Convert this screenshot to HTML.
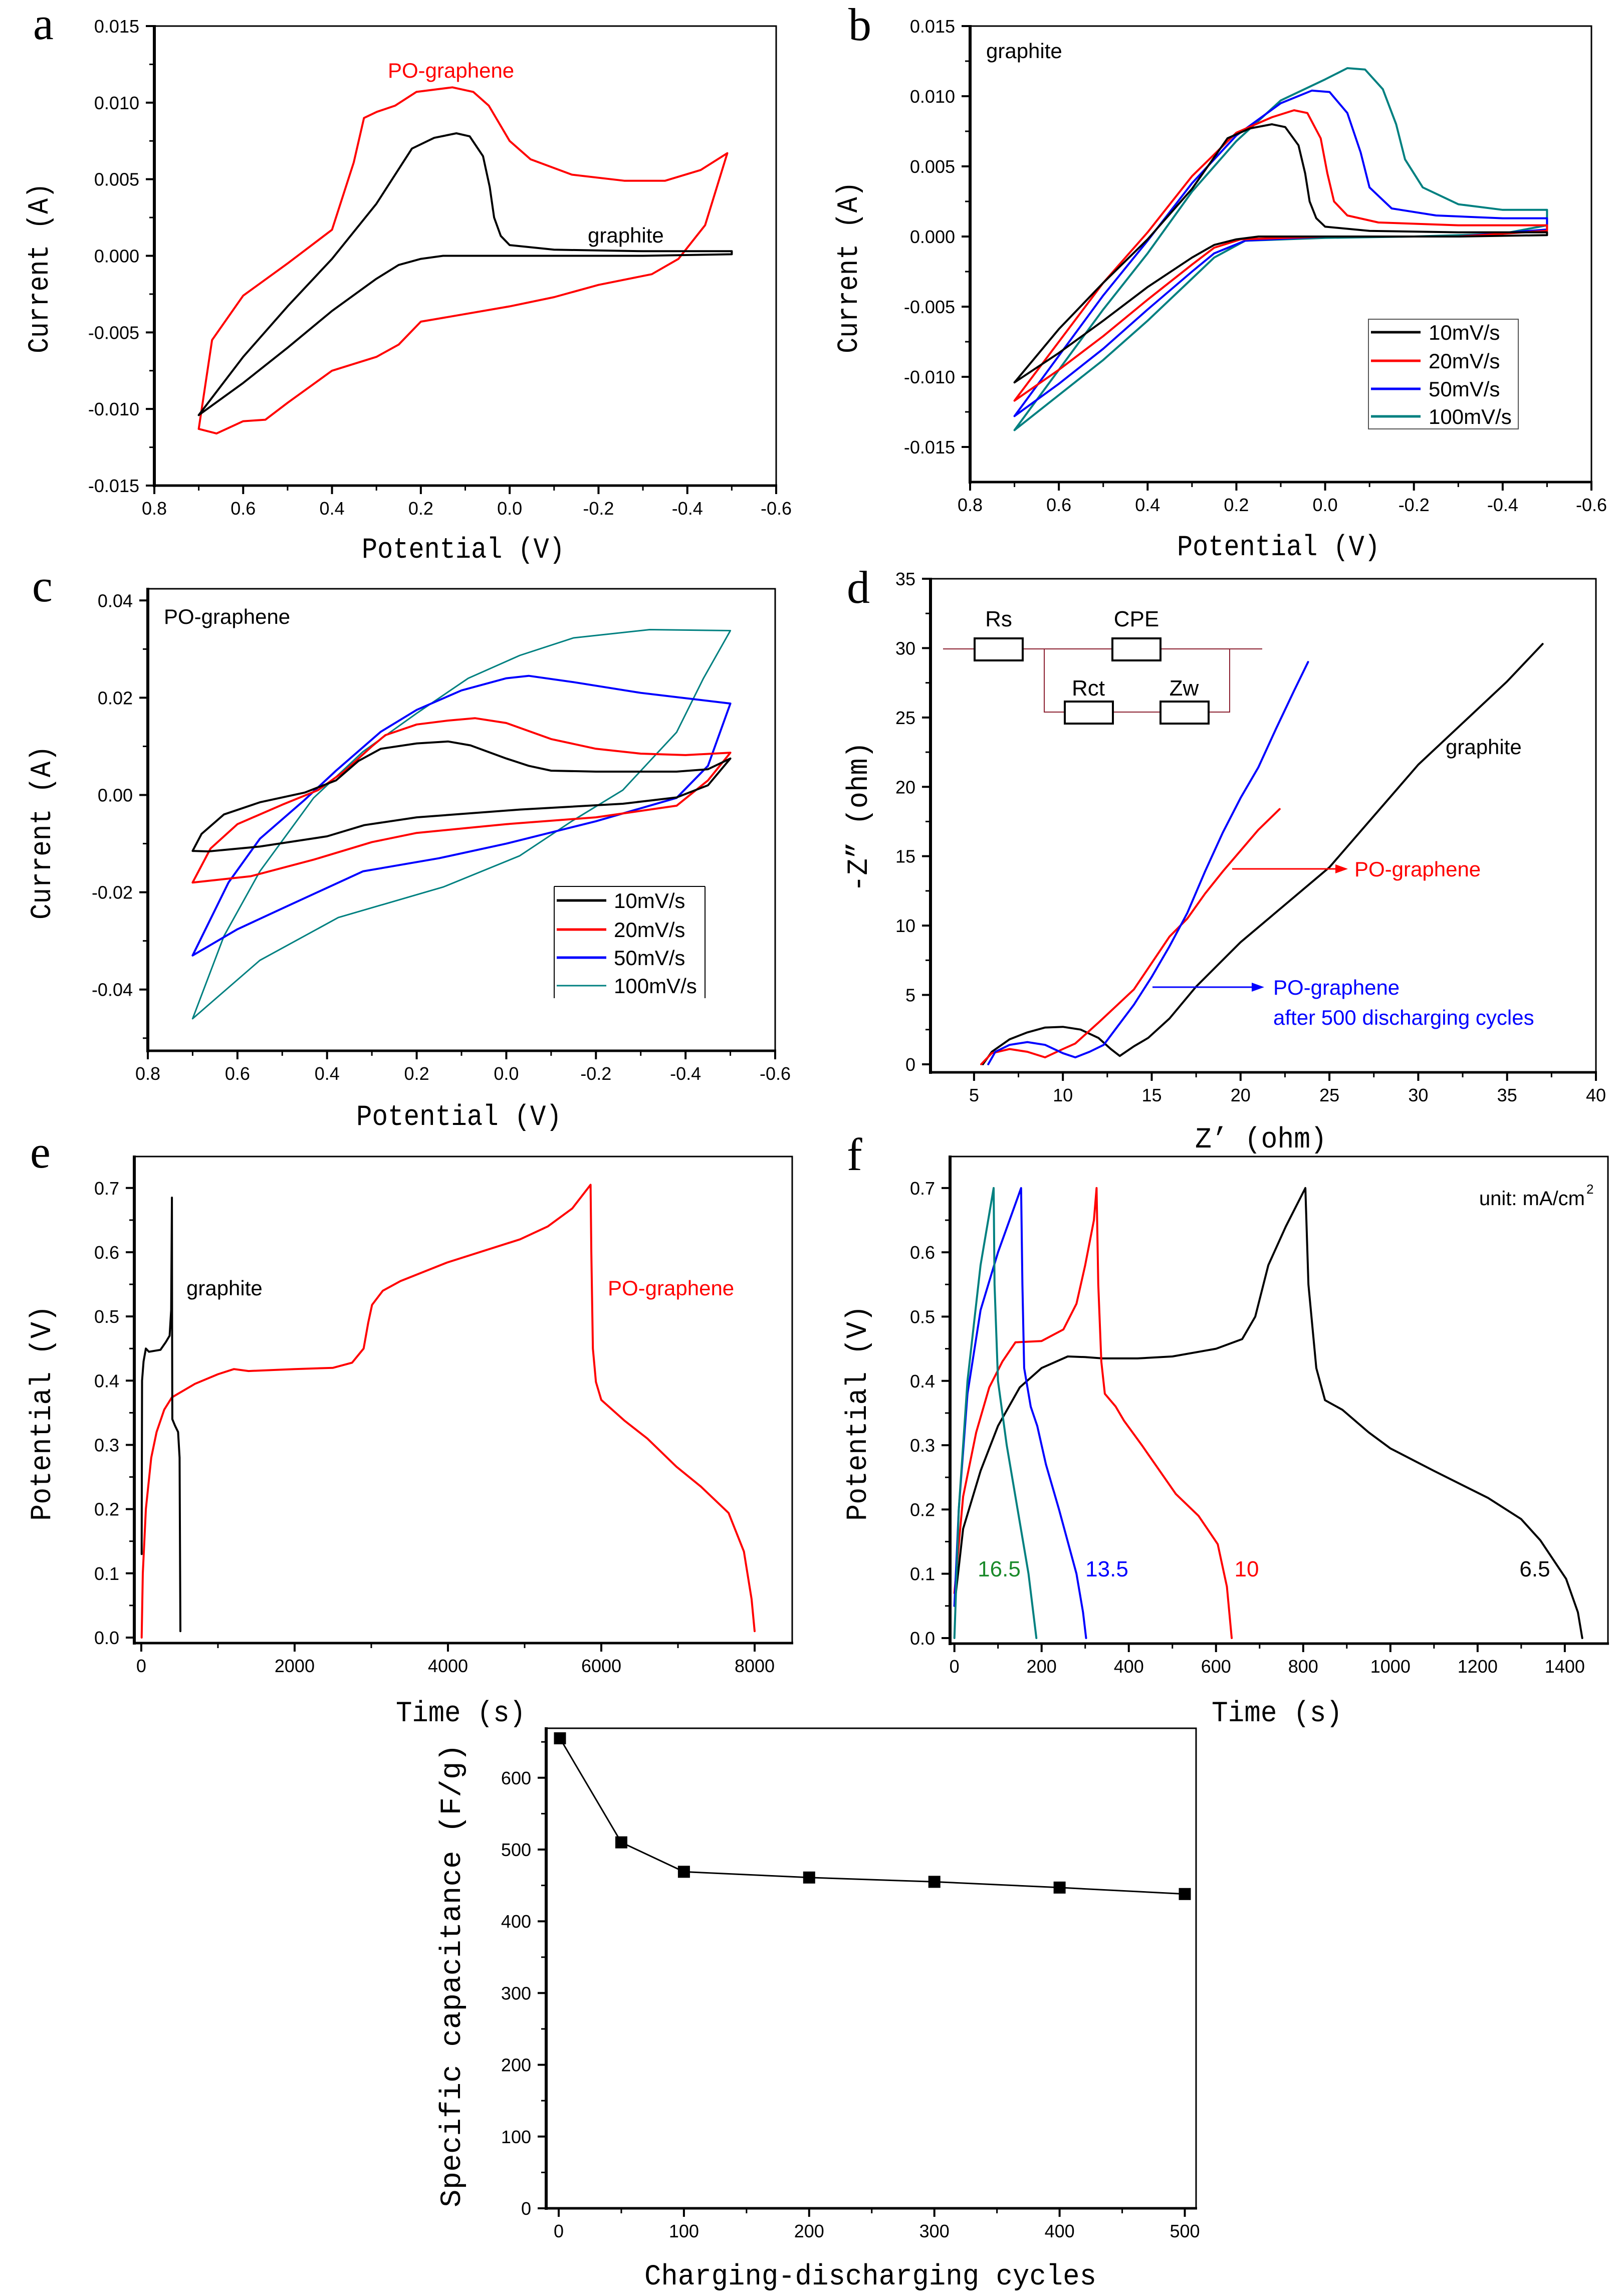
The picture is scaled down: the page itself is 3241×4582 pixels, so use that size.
<!DOCTYPE html>
<html><head><meta charset="utf-8"><style>
html,body{margin:0;padding:0;background:#fff;}
svg{display:block;}
</style></head><body>
<svg id="fig" xmlns="http://www.w3.org/2000/svg" width="3241" height="4582" viewBox="0 0 3241 4582"></svg>
<script>
// ---------- DATA ----------
// panel a
const aGraphite = [[0.7,-0.0104],[0.6,-0.0066],[0.5,-0.0033],[0.4,-0.0002],[0.3,0.0034],[0.22,0.0070],[0.17,0.0077],[0.12,0.0080],[0.09,0.0078],[0.06,0.0065],[0.045,0.0045],[0.035,0.0025],[0.02,0.0013],[0.0,0.0007],[-0.1,0.0004],[-0.3,0.0003],[-0.5,0.0003],[-0.5,0.0001],[-0.3,0.0],[0.0,0.0],[0.15,0.0],[0.2,-0.0002],[0.25,-0.0006],[0.3,-0.0015],[0.4,-0.0036],[0.5,-0.006],[0.6,-0.0083],[0.7,-0.0104]];
const aPO = [[0.7,-0.0113],[0.67,-0.0055],[0.6,-0.0026],[0.5,-0.0005],[0.4,0.0017],[0.351,0.0061],[0.328,0.009],[0.299,0.0094],[0.258,0.0098],[0.21,0.0107],[0.129,0.011],[0.082,0.0107],[0.047,0.0098],[0.0,0.0075],[-0.047,0.0063],[-0.14,0.0053],[-0.258,0.0049],[-0.35,0.0049],[-0.43,0.0056],[-0.49,0.0067],[-0.44,0.002],[-0.38,-0.0002],[-0.32,-0.0012],[-0.2,-0.0019],[-0.1,-0.0027],[0.0,-0.0033],[0.1,-0.0038],[0.2,-0.0043],[0.25,-0.0058],[0.3,-0.0066],[0.4,-0.0075],[0.5,-0.0096],[0.55,-0.0107],[0.6,-0.0108],[0.66,-0.0116],[0.7,-0.0113]];
// panel b
const b10 = [[0.7,-0.0104],[0.6,-0.0066],[0.5,-0.0033],[0.4,-0.0002],[0.3,0.0034],[0.22,0.0070],[0.17,0.0077],[0.12,0.0080],[0.09,0.0078],[0.06,0.0065],[0.045,0.0045],[0.035,0.0025],[0.02,0.0013],[0.0,0.0007],[-0.1,0.0004],[-0.3,0.0003],[-0.5,0.0003],[-0.5,0.0001],[-0.3,0.0],[0.0,0.0],[0.15,0.0],[0.2,-0.0002],[0.25,-0.0006],[0.3,-0.0015],[0.4,-0.0036],[0.5,-0.006],[0.6,-0.0083],[0.7,-0.0104]];
const b20 = [[0.7,-0.0117],[0.5,-0.0033],[0.4,0.0003],[0.3,0.0043],[0.2,0.0074],[0.12,0.0085],[0.07,0.009],[0.04,0.0088],[0.01,0.0070],[-0.005,0.0045],[-0.02,0.0025],[-0.05,0.0015],[-0.12,0.001],[-0.3,0.0008],[-0.5,0.0008],[-0.5,0.0004],[-0.3,0.0],[0,0],[0.19,-0.0002],[0.25,-0.0008],[0.3,-0.002],[0.4,-0.0045],[0.5,-0.0071],[0.6,-0.0095],[0.7,-0.0117]];
const b50 = [[0.7,-0.0128],[0.5,-0.0042],[0.4,-0.0003],[0.3,0.0038],[0.2,0.0072],[0.1,0.0095],[0.03,0.0104],[-0.01,0.0103],[-0.05,0.0088],[-0.08,0.006],[-0.1,0.0035],[-0.15,0.002],[-0.25,0.0015],[-0.4,0.0013],[-0.5,0.0013],[-0.5,0.0005],[-0.3,0.0],[0,0],[0.18,-0.0003],[0.25,-0.0012],[0.3,-0.0025],[0.4,-0.0052],[0.5,-0.008],[0.6,-0.0105],[0.7,-0.0128]];
const b100 = [[0.7,-0.0138],[0.5,-0.0052],[0.4,-0.0012],[0.3,0.0032],[0.2,0.0068],[0.1,0.0097],[0.0,0.0112],[-0.05,0.012],[-0.09,0.0119],[-0.13,0.0105],[-0.16,0.008],[-0.18,0.0055],[-0.22,0.0035],[-0.3,0.0023],[-0.4,0.0019],[-0.5,0.0019],[-0.5,0.0008],[-0.4,0.0002],[-0.2,0.0],[0,-0.0001],[0.18,-0.0003],[0.25,-0.0015],[0.3,-0.003],[0.4,-0.006],[0.5,-0.0088],[0.6,-0.0113],[0.7,-0.0138]];
// panel c
const c10 = [[0.7,-0.0115],[0.68,-0.008],[0.63,-0.004],[0.55,-0.0015],[0.45,0.0005],[0.38,0.003],[0.33,0.007],[0.28,0.0095],[0.2,0.0106],[0.13,0.011],[0.08,0.0102],[0.0,0.0075],[-0.05,0.006],[-0.1,0.005],[-0.2,0.0048],[-0.38,0.0048],[-0.45,0.0053],[-0.5,0.0075],[-0.45,0.002],[-0.38,-0.0005],[-0.26,-0.0018],[-0.03,-0.003],[0.2,-0.0046],[0.317,-0.0062],[0.4,-0.0085],[0.55,-0.0106],[0.665,-0.0116],[0.7,-0.0115]];
const c20 = [[0.7,-0.018],[0.66,-0.011],[0.6,-0.006],[0.5,-0.002],[0.42,0.001],[0.36,0.005],[0.3,0.01],[0.27,0.0123],[0.2,0.0145],[0.13,0.0153],[0.07,0.0158],[0.0,0.0148],[-0.1,0.0115],[-0.2,0.0095],[-0.3,0.0085],[-0.4,0.0082],[-0.5,0.0087],[-0.45,0.003],[-0.38,-0.0022],[-0.2,-0.0046],[0,-0.006],[0.2,-0.0078],[0.3,-0.0097],[0.43,-0.0133],[0.57,-0.0167],[0.7,-0.018]];
const c50 = [[0.7,-0.033],[0.62,-0.018],[0.55,-0.009],[0.45,-0.001],[0.38,0.005],[0.28,0.013],[0.2,0.0175],[0.1,0.0215],[0.0,0.024],[-0.05,0.0245],[-0.15,0.0232],[-0.3,0.021],[-0.5,0.0188],[-0.45,0.006],[-0.38,-0.0006],[-0.2,-0.0054],[0,-0.010],[0.15,-0.013],[0.32,-0.0157],[0.49,-0.0229],[0.6,-0.0276],[0.7,-0.033]];
const c100 = [[0.7,-0.046],[0.63,-0.029],[0.55,-0.0157],[0.43,-0.0006],[0.32,0.0089],[0.2,0.0168],[0.085,0.024],[-0.03,0.0287],[-0.15,0.0323],[-0.32,0.034],[-0.5,0.0338],[-0.44,0.024],[-0.38,0.0129],[-0.26,0.001],[-0.146,-0.0054],[-0.03,-0.0125],[0.14,-0.0189],[0.375,-0.0252],[0.55,-0.034],[0.7,-0.046]];
// panel d
const dGraphite = [[5.5,0],[6,0.9],[7,1.8],[8,2.3],[9,2.65],[10,2.7],[11,2.5],[12,1.9],[12.7,1.1],[13.2,0.6],[14,1.3],[14.8,1.9],[16,3.3],[17.5,5.6],[20,8.8],[22.5,11.5],[25,14.2],[30,21.6],[35,27.6],[37,30.3]];
const dPO = [[5.4,0],[6,0.8],[7,1.1],[8,0.9],[9,0.5],[10,1.1],[10.7,1.5],[12,3],[13,4.2],[14,5.4],[15,7.3],[16,9.2],[17,10.5],[18,12.3],[19,13.9],[20,15.4],[21,16.9],[22.2,18.4]];
const dPO500 = [[5.8,0],[6.2,0.9],[7,1.4],[8,1.6],[9,1.4],[10,0.8],[10.7,0.5],[11.5,0.9],[12.3,1.4],[13,2.6],[14,4.3],[15,6.3],[16,8.5],[17,10.9],[18,13.9],[19,16.7],[20,19.2],[21,21.4],[22,24.2],[23,26.9],[23.8,29]];
// panel e
const eGraphite = [[5,0.13],[10,0.40],[30,0.43],[60,0.45],[100,0.445],[250,0.448],[320,0.46],[370,0.47],[390,0.51],[400,0.685],[402,0.5],[405,0.34],[440,0.33],[480,0.32],[500,0.28],[510,0.01]];
const ePO = [[5,0],[20,0.1],[60,0.2],[130,0.28],[200,0.32],[300,0.355],[400,0.374],[700,0.395],[1000,0.41],[1209,0.418],[1400,0.415],[2000,0.418],[2500,0.42],[2750,0.428],[2900,0.45],[2960,0.49],[3010,0.518],[3150,0.54],[3380,0.555],[3990,0.584],[4940,0.62],[5300,0.64],[5620,0.668],[5860,0.705],[5870,0.6],[5890,0.45],[5930,0.398],[6000,0.37],[6300,0.338],[6600,0.31],[6980,0.266],[7300,0.235],[7660,0.194],[7860,0.134],[7960,0.06],[8000,0.01]];
// panel f
const f65 = [[0,0.05],[20,0.17],[60,0.26],[100,0.33],[150,0.39],[200,0.42],[260,0.438],[300,0.437],[340,0.435],[420,0.435],[500,0.438],[600,0.45],[660,0.465],[690,0.5],[720,0.58],[760,0.64],[805,0.7],[812,0.55],[830,0.42],[850,0.37],[890,0.355],[950,0.32],[1000,0.295],[1100,0.26],[1224,0.218],[1300,0.185],[1344,0.152],[1403,0.092],[1430,0.04],[1440,0.0]];
const f10 = [[0,0.07],[20,0.22],[50,0.32],[80,0.39],[110,0.43],[140,0.46],[200,0.462],[250,0.48],[280,0.52],[300,0.58],[320,0.65],[326,0.7],[330,0.55],[337,0.43],[345,0.38],[370,0.36],[389,0.338],[430,0.3],[508,0.224],[560,0.19],[604,0.146],[625,0.08],[636,0.0]];
const f135 = [[0,0.05],[10,0.2],[30,0.38],[60,0.51],[100,0.6],[153,0.7],[156,0.55],[160,0.42],[175,0.36],[190,0.33],[210,0.27],[240,0.2],[260,0.15],[280,0.1],[295,0.04],[302,0.0]];
const f165 = [[0,0.0],[10,0.2],[30,0.4],[60,0.58],[90,0.7],[92,0.55],[100,0.4],[120,0.3],[150,0.18],[170,0.1],[188,0.0]];
// panel g
const gCycles = [1,50,100,200,300,400,500];
const gCap = [655,510,469,461,455,447,438];
// tick values / labels
const cvXTicks = [0.8,0.6,0.4,0.2,0.0,-0.2,-0.4,-0.6];
const cvXLabels = ["0.8","0.6","0.4","0.2","0.0","-0.2","-0.4","-0.6"];
const abYTicks = [0.015,0.010,0.005,0.0,-0.005,-0.010,-0.015];
const abYLabels = ["0.015","0.010","0.005","0.000","-0.005","-0.010","-0.015"];
const cYTicks = [0.04,0.02,0.0,-0.02,-0.04];
const cYLabels = ["0.04","0.02","0.00","-0.02","-0.04"];
const dXTicks = [5,10,15,20,25,30,35,40];
const dXLabels = ["5","10","15","20","25","30","35","40"];
const dYTicks = [0,5,10,15,20,25,30,35];
const dYLabels = ["0","5","10","15","20","25","30","35"];
const eXTicks = [0,2000,4000,6000,8000];
const eXLabels = ["0","2000","4000","6000","8000"];
const efYTicks = [0,0.1,0.2,0.3,0.4,0.5,0.6,0.7];
const efYLabels = ["0.0","0.1","0.2","0.3","0.4","0.5","0.6","0.7"];
const fXTicks = [0,200,400,600,800,1000,1200,1400];
const fXLabels = ["0","200","400","600","800","1000","1200","1400"];
const gXTicks = [0,100,200,300,400,500];
const gXLabels = ["0","100","200","300","400","500"];
const gYTicks = [0,100,200,300,400,500,600];
const gYLabels = ["0","100","200","300","400","500","600"];

// ---------- DRAWING ----------
const NS = "http://www.w3.org/2000/svg";
const svg = document.getElementById('fig');
function mk(tag, attrs, parent) {
  const el = document.createElementNS(NS, tag);
  for (const k in attrs) el.setAttribute(k, attrs[k]);
  (parent || svg).appendChild(el);
  return el;
}
function txt(x, y, s, size, fam, anchor, fill, name, rot, tl) {
  const el = mk('text', {x: x, y: y, 'font-size': size, 'font-family': fam, 'text-anchor': anchor, fill: fill});
  if (rot) el.setAttribute('transform', 'rotate(-90 ' + x + ' ' + y + ')');
  if (tl) { el.setAttribute('textLength', tl); el.setAttribute('lengthAdjust', 'spacingAndGlyphs'); }
  el.textContent = s;
  
  
  return el;
}
const SANS = '"Liberation Sans", sans-serif';
const MONO = '"Liberation Mono", monospace';
const SERIF = '"Liberation Serif", serif';

function makeScale(p) {
  p.sx = v => p.x0 + (v - p.xl) / (p.xr - p.xl) * (p.x1 - p.x0);
  p.sy = v => p.y1 - (v - p.yb) / (p.yt - p.yb) * (p.y1 - p.y0);
  return p;
}
function axes(p, id, xt, xlab, xminor, yt, ylab, yminor) {
  const g = mk('g', {});
  
  
  mk('rect', {x: p.x0, y: p.y0, width: p.x1 - p.x0, height: p.y1 - p.y0, fill: 'none', stroke: '#000', 'stroke-width': 3}, g);
  mk('line', {x1: p.x0, y1: p.y0 - 2, x2: p.x0, y2: p.y1 + 3, stroke: '#000', 'stroke-width': 6}, g);
  mk('line', {x1: p.x0 - 3, y1: p.y1, x2: p.x1 + 2, y2: p.y1, stroke: '#000', 'stroke-width': 5}, g);
  xt.forEach((v, i) => {
    const x = p.sx(v);
    mk('line', {x1: x, y1: p.y1, x2: x, y2: p.y1 + 17, stroke: '#000', 'stroke-width': 4}, g);
    txt(x, p.y1 + 58, xlab[i], 36, SANS, 'middle', '#000', 'panel-' + id + '-x-tick-label');
  });
  xminor.forEach(v => {
    const x = p.sx(v);
    if (x > p.x0 + 2 && x < p.x1 - 2) mk('line', {x1: x, y1: p.y1, x2: x, y2: p.y1 + 10, stroke: '#000', 'stroke-width': 3}, g);
  });
  yt.forEach((v, i) => {
    const y = p.sy(v);
    mk('line', {x1: p.x0, y1: y, x2: p.x0 - 17, y2: y, stroke: '#000', 'stroke-width': 4}, g);
    txt(p.x0 - 30, y + 13, ylab[i], 36, SANS, 'end', '#000', 'panel-' + id + '-y-tick-label');
  });
  yminor.forEach(v => {
    const y = p.sy(v);
    if (y > p.y0 + 2 && y < p.y1 - 2) mk('line', {x1: p.x0, y1: y, x2: p.x0 - 10, y2: y, stroke: '#000', 'stroke-width': 3}, g);
  });
}
function series(p, data, color, name, w) {
  const pts = data.map(d => p.sx(d[0]).toFixed(1) + ',' + p.sy(d[1]).toFixed(1)).join(' ');
  const el = mk('polyline', {points: pts, fill: 'none', stroke: color, 'stroke-width': w || 4, 'stroke-linejoin': 'round', 'stroke-linecap': 'round'});
  
  
  return el;
}
function range(a, b, s) { const r = []; for (let v = a; v <= b + 1e-9; v += s) r.push(+v.toFixed(6)); return r; }

const BLACK = '#000', RED = '#ff0000', BLUE = '#0000ff', TEAL = '#008080';

// panel letters
txt(66, 78, 'a', 92, SERIF, 'start', '#000', 'panel-label-a');
txt(1693, 80, 'b', 92, SERIF, 'start', '#000', 'panel-label-b');
txt(64, 1200, 'c', 92, SERIF, 'start', '#000', 'panel-label-c');
txt(1690, 1203, 'd', 92, SERIF, 'start', '#000', 'panel-label-d');
txt(60, 2330, 'e', 92, SERIF, 'start', '#000', 'panel-label-e');
txt(1690, 2335, 'f', 92, SERIF, 'start', '#000', 'panel-label-f');

// ---- panel a ----
const pa = makeScale({x0: 308, x1: 1549, y0: 52, y1: 969, xl: 0.8, xr: -0.6, yb: -0.015, yt: 0.015});
axes(pa, 'a', cvXTicks, cvXLabels, range(-0.6, 0.8, 0.1), abYTicks, abYLabels, range(-0.015, 0.015, 0.0025));
series(pa, aPO, RED, 'series-a-po-graphene');
series(pa, aGraphite, BLACK, 'series-a-graphite');
txt(774, 155, 'PO-graphene', 42, SANS, 'start', RED, 'label-a-po-graphene');
txt(1173, 484, 'graphite', 42, SANS, 'start', BLACK, 'label-a-graphite');
txt(722, 1113, 'Potential (V)', 58, MONO, 'start', '#000', 'x-axis-title-a', false, 405);
txt(95, 705, 'Current (A)', 58, MONO, 'start', '#000', 'y-axis-title-a', true, 340);

// ---- panel b ----
const pb = makeScale({x0: 1936, x1: 3176, y0: 52, y1: 962, xl: 0.8, xr: -0.6, yb: -0.0175, yt: 0.015});
axes(pb, 'b', cvXTicks, cvXLabels, range(-0.6, 0.8, 0.1), abYTicks, abYLabels, range(-0.0175, 0.015, 0.0025));
series(pb, b100, TEAL, 'series-b-100mVs');
series(pb, b50, BLUE, 'series-b-50mVs');
series(pb, b20, RED, 'series-b-20mVs');
series(pb, b10, BLACK, 'series-b-10mVs');
txt(1968, 116, 'graphite', 42, SANS, 'start', BLACK, 'label-b-graphite');
txt(2349, 1108, 'Potential (V)', 58, MONO, 'start', '#000', 'x-axis-title-b', false, 405);
txt(1710, 705, 'Current (A)', 58, MONO, 'start', '#000', 'y-axis-title-b', true, 343);
(function () {
  const g = mk('g', {});
  
  
  mk('rect', {x: 2731, y: 637, width: 299, height: 219, fill: '#fff', stroke: '#555', 'stroke-width': 2}, g);
  const names = ['10mV/s', '20mV/s', '50mV/s', '100mV/s'];
  const cols = [BLACK, RED, BLUE, TEAL];
  const ys = [663, 720, 776, 831];
  names.forEach((n, i) => {
    mk('line', {x1: 2736, y1: ys[i], x2: 2835, y2: ys[i], stroke: cols[i], 'stroke-width': 5}, g);
    txt(2851, ys[i] + 15, n, 42, SANS, 'start', '#000', 'legend-b-entry');
  });
})();

// ---- panel c ----
const pc = makeScale({x0: 295, x1: 1547, y0: 1175, y1: 2097, xl: 0.8, xr: -0.6, yb: -0.0526, yt: 0.0424});
axes(pc, 'c', cvXTicks, cvXLabels, range(-0.6, 0.8, 0.1), cYTicks, cYLabels, range(-0.05, 0.04, 0.01));
series(pc, c100, TEAL, 'series-c-100mVs', 3);
series(pc, c50, BLUE, 'series-c-50mVs');
series(pc, c20, RED, 'series-c-20mVs');
series(pc, c10, BLACK, 'series-c-10mVs');
txt(327, 1245, 'PO-graphene', 42, SANS, 'start', BLACK, 'label-c-po-graphene');
txt(711, 2245, 'Potential (V)', 58, MONO, 'start', '#000', 'x-axis-title-c', false, 410);
txt(100, 1835, 'Current (A)', 58, MONO, 'start', '#000', 'y-axis-title-c', true, 347);
(function () {
  const g = mk('g', {});
  
  
  mk('line', {x1: 1106, y1: 1769, x2: 1407, y2: 1769, stroke: '#000', 'stroke-width': 2}, g);
  mk('line', {x1: 1106, y1: 1769, x2: 1106, y2: 1992, stroke: '#000', 'stroke-width': 2}, g);
  mk('line', {x1: 1407, y1: 1769, x2: 1407, y2: 1992, stroke: '#000', 'stroke-width': 2}, g);
  const names = ['10mV/s', '20mV/s', '50mV/s', '100mV/s'];
  const cols = [BLACK, RED, BLUE, TEAL];
  const ys = [1797, 1855, 1911, 1967];
  names.forEach((n, i) => {
    mk('line', {x1: 1111, y1: ys[i], x2: 1210, y2: ys[i], stroke: cols[i], 'stroke-width': i === 3 ? 3 : 5}, g);
    txt(1225, ys[i] + 15, n, 42, SANS, 'start', '#000', 'legend-c-entry');
  });
})();

// ---- panel d ----
const pd = makeScale({x0: 1857, x1: 3185, y0: 1155, y1: 2140, xl: 2.55, xr: 40, yb: -0.58, yt: 35});
axes(pd, 'd', dXTicks, dXLabels, range(2.5, 40, 2.5), dYTicks, dYLabels, range(0, 35, 2.5));
series(pd, dGraphite, BLACK, 'series-d-graphite');
series(pd, dPO, RED, 'series-d-po-graphene');
series(pd, dPO500, BLUE, 'series-d-po-graphene-500-cycles');
(function () {
  const g = mk('g', {});
  
  
  const c = '#8b2030';
  mk('line', {x1: 1882, y1: 1295, x2: 2519, y2: 1295, stroke: c, 'stroke-width': 2}, g);
  mk('polyline', {points: '2084,1295 2084,1421 2454,1421 2454,1295', fill: 'none', stroke: c, 'stroke-width': 2}, g);
  [[1945, 1274], [2220, 1274], [2125, 1400], [2316, 1400]].forEach(b => {
    mk('rect', {x: b[0], y: b[1], width: 96, height: 44, fill: '#fff', stroke: '#000', 'stroke-width': 4}, g);
  });
  txt(1993, 1250, 'Rs', 44, SANS, 'middle', '#000', 'circuit-label-rs');
  txt(2268, 1250, 'CPE', 44, SANS, 'middle', '#000', 'circuit-label-cpe');
  txt(2172, 1388, 'Rct', 44, SANS, 'middle', '#000', 'circuit-label-rct');
  txt(2363, 1388, 'Zw', 44, SANS, 'middle', '#000', 'circuit-label-zw');
})();
txt(2885, 1505, 'graphite', 42, SANS, 'start', BLACK, 'label-d-graphite');
mk('line', {x1: 2459, y1: 1734, x2: 2670, y2: 1734, stroke: RED, 'stroke-width': 3});
mk('polygon', {points: '2690,1734 2665,1725 2665,1743', fill: RED});
txt(2703, 1749, 'PO-graphene', 42, SANS, 'start', RED, 'label-d-po-graphene');
mk('line', {x1: 2300, y1: 1970, x2: 2505, y2: 1970, stroke: BLUE, 'stroke-width': 3});
mk('polygon', {points: '2523,1970 2498,1961 2498,1979', fill: BLUE});
txt(2541, 1985, 'PO-graphene', 42, SANS, 'start', BLUE, 'label-d-po-graphene-500');
txt(2541, 2045, 'after 500 discharging cycles', 42, SANS, 'start', BLUE, 'label-d-after-500-cycles');
txt(2385, 2290, 'Z’ (ohm)', 58, MONO, 'start', '#000', 'x-axis-title-d', false, 263);
txt(1730, 1780, '-Z” (ohm)', 58, MONO, 'start', '#000', 'y-axis-title-d', true, 300);

// ---- panel e ----
const pe = makeScale({x0: 268, x1: 1581, y0: 2308, y1: 3279, xl: -91, xr: 8490, yb: -0.0086, yt: 0.749});
axes(pe, 'e', eXTicks, eXLabels, range(0, 8000, 1000), efYTicks, efYLabels, range(0, 0.7, 0.05));
series(pe, ePO, RED, 'series-e-po-graphene');
series(pe, eGraphite, BLACK, 'series-e-graphite');
txt(372, 2585, 'graphite', 42, SANS, 'start', BLACK, 'label-e-graphite');
txt(1213, 2585, 'PO-graphene', 42, SANS, 'start', RED, 'label-e-po-graphene');
txt(790, 3435, 'Time (s)', 58, MONO, 'start', '#000', 'x-axis-title-e', false, 259);
txt(100, 3035, 'Potential (V)', 58, MONO, 'start', '#000', 'y-axis-title-e', true, 430);

// ---- panel f ----
const pf = makeScale({x0: 1896, x1: 3209, y0: 2308, y1: 3280, xl: -10, xr: 1499, yb: -0.0086, yt: 0.749});
axes(pf, 'f', fXTicks, fXLabels, range(0, 1400, 100), efYTicks, efYLabels, range(0, 0.7, 0.05));
series(pf, f65, BLACK, 'series-f-6.5');
series(pf, f10, RED, 'series-f-10');
series(pf, f135, BLUE, 'series-f-13.5');
series(pf, f165, TEAL, 'series-f-16.5');
txt(1994, 3146, '16.5', 44, SANS, 'middle', '#1a8a2a', 'label-f-16.5');
txt(2209, 3146, '13.5', 44, SANS, 'middle', BLUE, 'label-f-13.5');
txt(2488, 3146, '10', 44, SANS, 'middle', RED, 'label-f-10');
txt(3063, 3146, '6.5', 44, SANS, 'middle', BLACK, 'label-f-6.5');
txt(3163, 2405, 'unit: mA/cm', 40, SANS, 'end', BLACK, 'label-f-unit');
txt(3166, 2382, '2', 26, SANS, 'start', BLACK, 'label-f-unit-superscript');
txt(2418, 3435, 'Time (s)', 58, MONO, 'start', '#000', 'x-axis-title-f', false, 261);
txt(1728, 3035, 'Potential (V)', 58, MONO, 'start', '#000', 'y-axis-title-f', true, 430);

// ---- panel g ----
const pg = makeScale({x0: 1090, x1: 2387, y0: 3449, y1: 4407, xl: -10, xr: 509, yb: 0, yt: 669});
axes(pg, 'g', gXTicks, gXLabels, range(0, 500, 50), gYTicks, gYLabels, range(0, 650, 50));
series(pg, gCycles.map((c, i) => [c, gCap[i]]), BLACK, 'series-g-capacitance-line', 3);
gCycles.forEach((c, i) => {
  const r = mk('rect', {x: pg.sx(c) - 12, y: pg.sy(gCap[i]) - 12, width: 24, height: 24, fill: '#000'});
  
  
});
txt(1286, 4559, 'Charging-discharging cycles', 58, MONO, 'start', '#000', 'x-axis-title-g', false, 902);
txt(918, 4405, 'Specific capacitance (F/g)', 58, MONO, 'start', '#000', 'y-axis-title-g', true, 925);
</script>
</body></html>
